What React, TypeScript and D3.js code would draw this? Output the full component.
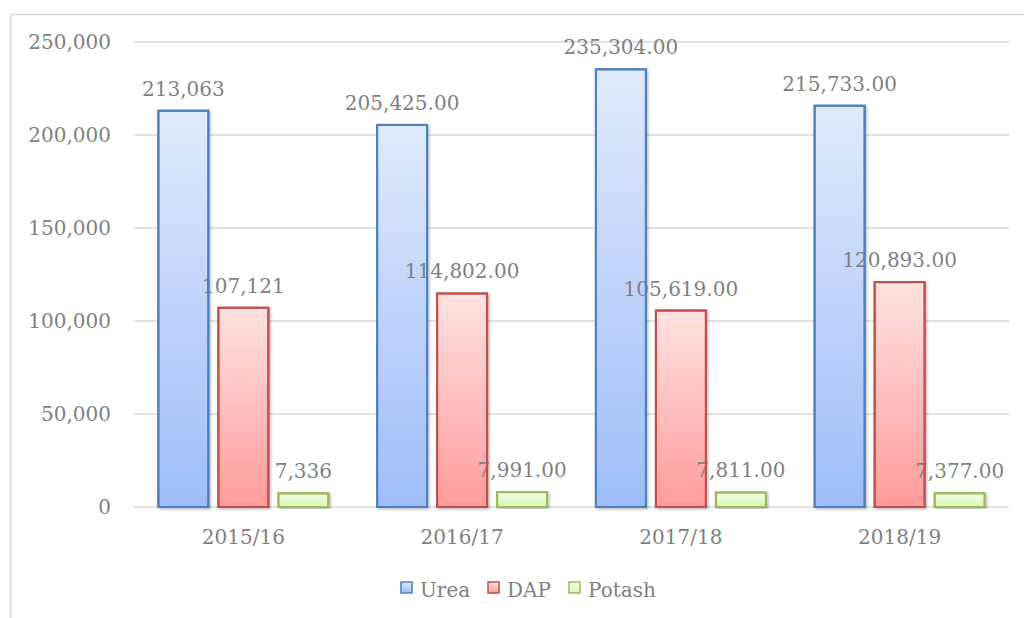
import React from "react";
import * as d3 from "d3";

const categories = ["2015/16", "2016/17", "2017/18", "2018/19"];
const seriesNames = ["Urea", "DAP", "Potash"];
const urea = [213063, 205425, 235304, 215733];
const dap = [107121, 114802, 105619, 120893];
const potash = [7336, 7991, 7811, 7377];
const labelDecimals = [0, 2, 2, 2];
const yTicks = [0, 50000, 100000, 150000, 200000, 250000];

const seriesValues = [urea, dap, potash];
const styles = [
  { stroke: "#4f81bd", top: "#e0eafc", bottom: "#9ebdf8" },
  { stroke: "#c0504d", top: "#ffe2e2", bottom: "#ff9b9b" },
  { stroke: "#9bbb59", top: "#f4ffe8", bottom: "#d9f5b2" },
];

const W = 1024;
const H = 618;
const FONT = "'DejaVu Serif', serif";
const TXT = "#7f7f7f";

export default function App() {
  const y = d3.scaleLinear().domain([0, 250000]).range([507, 42]);
  const x0 = d3.scaleBand<string>().domain(categories).range([134, 1009]).paddingInner(0).paddingOuter(0);
  const groupW = 170;
  const x1 = d3.scaleBand<string>().domain(seriesNames).range([0, groupW]).paddingInner(1 / 6).paddingOuter(0);
  const off = (x0.bandwidth() - groupW) / 2;
  const fmt0 = d3.format(",.0f");
  const fmt2 = d3.format(",.2f");
  const yFmt = d3.format(",");

  const legendItems = [
    { name: "Urea", x: 401 },
    { name: "DAP", x: 488 },
    { name: "Potash", x: 569 },
  ];

  const marks = categories.flatMap((c, ci) =>
    seriesNames.map((s, si) => {
      const v = seriesValues[si][ci];
      const bx = (x0(c) as number) + off + (x1(s) as number);
      const bw = x1.bandwidth();
      const top = y(v);
      const label = labelDecimals[ci] === 0 ? fmt0(v) : fmt2(v);
      return { key: `${c}-${s}`, si, bx, bw, top, label };
    })
  );

  return (
    <svg width={W} height={H} style={{ position: "absolute", left: 0, top: 0, display: "block" }} fontFamily={FONT}>
      <defs>
        {styles.map((s, i) => (
          <linearGradient key={i} id={`g${i}`} x1="0" y1="0" x2="0" y2="1">
            <stop offset="0" stopColor={s.top} />
            <stop offset="1" stopColor={s.bottom} />
          </linearGradient>
        ))}
        <filter id="sh" x="-20%" y="-5%" width="150%" height="115%">
          <feDropShadow dx="1.5" dy="1.5" stdDeviation="1.2" floodColor="#000" floodOpacity="0.25" />
        </filter>
      </defs>
      <rect x={0} y={0} width={W} height={H} fill="#fff" />
      <rect x={10.5} y={14.5} width={1030} height={620} fill="#fff" stroke="#d9d9d9" strokeWidth={1.5} />
      {yTicks.map((t) => (
        <g key={t}>
          <line x1={134} x2={1009} y1={y(t)} y2={y(t)} stroke="#d9d9d9" strokeWidth={1.5} />
          <text x={111} y={y(t) + 7} textAnchor="end" fontSize={20} fill={TXT}>
            {yFmt(t)}
          </text>
        </g>
      ))}
      {marks.map((m) => (
        <rect
          key={`b-${m.key}`}
          x={m.bx}
          y={m.top}
          width={m.bw}
          height={y(0) - m.top}
          fill={`url(#g${m.si})`}
          stroke={styles[m.si].stroke}
          strokeWidth={2}
          filter="url(#sh)"
        />
      ))}
      {marks.map((m) => (
        <text key={`l-${m.key}`} x={m.bx + m.bw / 2} y={m.top - 15} textAnchor="middle" fontSize={20} fill={TXT}>
          {m.label}
        </text>
      ))}
      {marks.map((m) => (
        <rect
          key={`o-${m.key}`}
          x={m.bx}
          y={m.top}
          width={m.bw}
          height={y(0) - m.top}
          fill="none"
          stroke={styles[m.si].stroke}
          strokeWidth={2}
        />
      ))}
      {categories.map((c) => (
        <text key={c} x={(x0(c) as number) + x0.bandwidth() / 2} y={544} textAnchor="middle" fontSize={20} fill={TXT}>
          {c}
        </text>
      ))}
      {legendItems.map((l, i) => (
        <g key={l.name}>
          <rect x={l.x} y={582} width={11} height={11} fill={`url(#g${i})`} stroke={styles[i].stroke} strokeWidth={1.5} />
          <text x={l.x + 19} y={597} fontSize={20} fill={TXT}>
            {l.name}
          </text>
        </g>
      ))}
    </svg>
  );
}
